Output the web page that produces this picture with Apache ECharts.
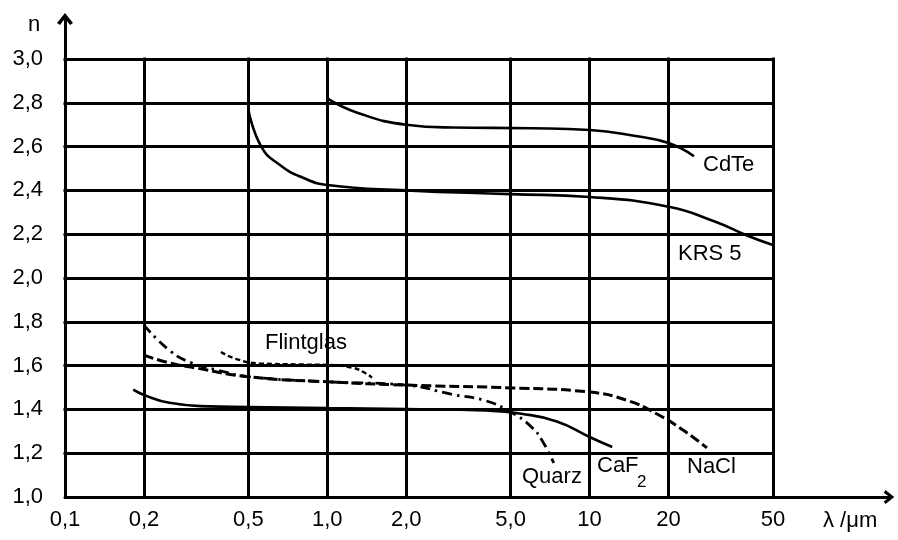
<!DOCTYPE html>
<html>
<head>
<meta charset="utf-8">
<script src="https://cdn.jsdelivr.net/npm/echarts@6/dist/echarts.min.js"></script>
<style>
  html, body { margin: 0; padding: 0; background: #fff; }
  #chart { width: 898px; height: 540px; }
</style>
</head>
<body>
<div id="chart"></div>
<script>
const X_TICKS = [0.1, 0.2, 0.5, 1, 2, 5, 10, 20, 50];
const X_LABELS = ["0,1", "0,2", "0,5", "1,0", "2,0", "5,0", "10", "20", "50"];
const Y_TICKS = [1.0, 1.2, 1.4, 1.6, 1.8, 2.0, 2.2, 2.4, 2.6, 2.8, 3.0];
const Y_LABELS = ["1,0", "1,2", "1,4", "1,6", "1,8", "2,0", "2,2", "2,4", "2,6", "2,8", "3,0"];

// [Wellenlänge in µm, Brechzahl n]
const cdte = [[1.0, 2.82], [1.3, 2.755], [2.0, 2.70], [3, 2.687], [6, 2.684], [10, 2.676], [15, 2.648], [20, 2.616], [25, 2.556]];
const krs5 = [[0.5, 2.77], [0.56, 2.6], [0.66, 2.516], [0.8, 2.46], [1.0, 2.425], [2, 2.40], [5, 2.383], [10, 2.37], [20, 2.325], [30, 2.258], [40, 2.193], [50, 2.151]];
const flintglas = [[0.393, 1.662], [0.45, 1.63], [0.55, 1.61], [0.8, 1.605], [1.0, 1.603], [1.25, 1.59], [1.4, 1.565], [1.48, 1.545]];
const quarz = [[0.2, 1.785], [0.25, 1.67], [0.3, 1.615], [0.38, 1.58], [0.5, 1.55], [1, 1.526], [2, 1.511], [3, 1.468], [4, 1.44], [5, 1.388], [6, 1.32], [6.64, 1.251], [7.3, 1.155]];
const caf2 = [[0.182, 1.49], [0.2, 1.466], [0.25, 1.43], [0.35, 1.414], [0.5, 1.411], [1, 1.406], [2, 1.402], [4, 1.395], [5.5, 1.38], [7.5, 1.345], [10, 1.274], [12.2, 1.228]];
const nacl = [[0.2, 1.648], [0.25, 1.612], [0.32, 1.588], [0.5, 1.549], [1, 1.526], [2, 1.511], [5, 1.498], [10, 1.479], [14, 1.44], [18, 1.38], [22.7, 1.306], [28, 1.224]];

const FONT = '"Liberation Sans", Arial, sans-serif';
const FS = 22;
const ARROW = "path://M0,10 L8,0 L16,10 L13,12 L8,5.5 L3,12 Z";

function xLabel(v) {
  const i = X_TICKS.findIndex(t => Math.abs(Math.log10(t) - Math.log10(v)) < 1e-6);
  return i < 0 ? "" : X_LABELS[i];
}
function yLabel(v) {
  const i = Y_TICKS.findIndex(t => Math.abs(t - v) < 1e-6);
  return i < 0 ? "" : Y_LABELS[i];
}

function gridLines() {
  const x0 = X_TICKS[0], x1 = X_TICKS[X_TICKS.length - 1];
  const y0 = Y_TICKS[0], y1 = Y_TICKS[Y_TICKS.length - 1];
  const lines = [];
  Y_TICKS.slice(1).forEach(y => lines.push([{ coord: [x0, y] }, { coord: [x1, y] }]));
  X_TICKS.slice(1).forEach(x => lines.push([{ coord: [x, y0] }, { coord: [x, y1] }]));
  return lines;
}

function curve(name, data, type, width) {
  return {
    name, type: "line", data, z: 3,
    smooth: 0.5,
    showSymbol: false, symbol: "none", silent: true,
    lineStyle: { color: "#000", width: width || 2.6, type }
  };
}

function text(str, x, y, size) {
  return {
    type: "text", x, y, silent: true,
    style: { text: str, fill: "#000", fontSize: size || FS, fontFamily: FONT, verticalAlign: "middle", align: "left" }
  };
}

const chart = echarts.init(document.getElementById("chart"));
chart.setOption({
  animation: false,
  backgroundColor: "#fff",
  grid: { left: 65, right: 9, top: 19, bottom: 43, containLabel: false, outerBoundsMode: "none" },
  xAxis: {
    type: "log", logBase: 10, min: 0.1, max: 138.5,
    axisLine: { show: true, lineStyle: { color: "#000", width: 3 }, symbol: ["none", ARROW], symbolSize: [14, 11] },
    axisTick: { show: false },
    splitLine: { show: false },
    minorTick: { show: false },
    axisLabel: { customValues: X_TICKS, formatter: xLabel, margin: 12, color: "#000", fontSize: FS, fontFamily: FONT }
  },
  yAxis: {
    type: "value", min: 1, max: 3.1826,
    axisLine: { show: true, onZero: false, lineStyle: { color: "#000", width: 3 }, symbol: ["none", ARROW], symbolSize: [16, 12] },
    axisTick: { show: false },
    splitLine: { show: false },
    axisLabel: { customValues: Y_TICKS, formatter: yLabel, margin: 22, color: "#000", fontSize: FS, fontFamily: FONT }
  },
  series: [
    {
      type: "line", data: [], z: 1, silent: true,
      markLine: {
        silent: true, symbol: ["none", "none"], animation: false,
        label: { show: false },
        lineStyle: { color: "#000", width: 3, type: "solid", cap: "square" },
        emphasis: { disabled: true },
        data: gridLines()
      }
    },
    curve("CdTe", cdte, "solid"),
    curve("KRS 5", krs5, "solid"),
    curve("Flintglas", flintglas, [5, 3], 2.4),
    curve("Quarz", quarz, [10, 5, 2.5, 5], 2.8),
    curve("CaF2", caf2, "solid"),
    curve("NaCl", nacl, [10, 4], 3)
  ],
  graphic: [
    text("n", 28, 25),
    text("λ /μm", 823, 521),
    text("CdTe", 703, 165),
    text("KRS 5", 678, 254),
    text("Flintglas", 265, 343),
    text("Quarz", 522, 477),
    text("CaF", 597, 466),
    text("2", 637, 482, 17),
    text("NaCl", 687, 467)
  ]
});
</script>
</body>
</html>
